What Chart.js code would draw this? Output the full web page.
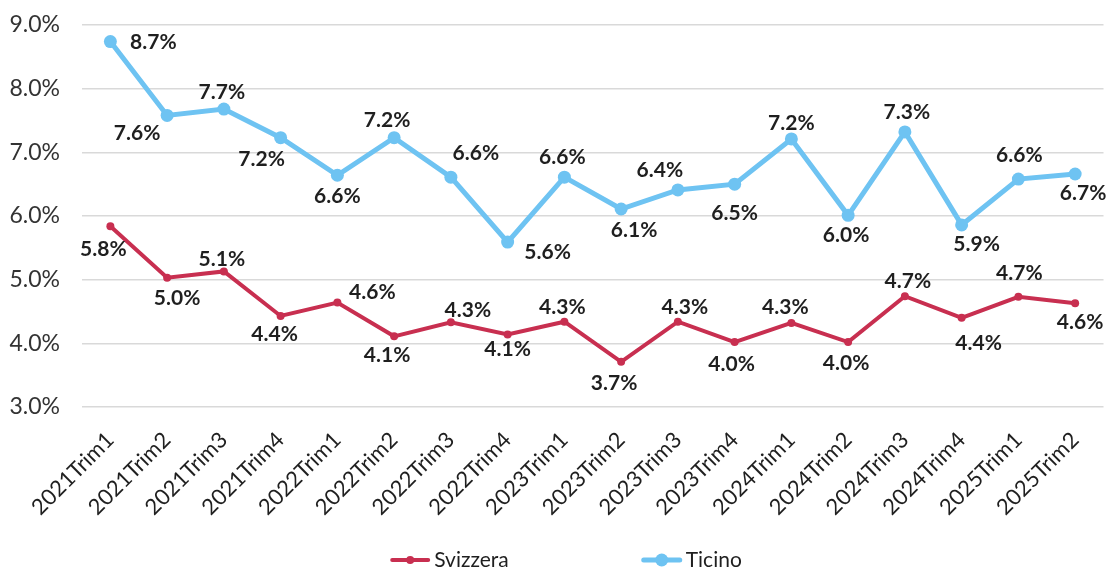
<!DOCTYPE html>
<html>
<head>
<meta charset="utf-8">
<script src="https://cdn.jsdelivr.net/npm/chart.js@4.4.0/dist/chart.umd.min.js"></script>
<style>
html,body{margin:0;padding:0;background:#ffffff;}
#wrap{width:1114px;height:569px;position:relative;}
</style>
</head>
<body>
<div id="wrap"><canvas id="c" width="1114" height="569"></canvas></div>
<script>
// ---- data ----
const categories = ["2021Trim1","2021Trim2","2021Trim3","2021Trim4","2022Trim1","2022Trim2","2022Trim3","2022Trim4","2023Trim1","2023Trim2","2023Trim3","2023Trim4","2024Trim1","2024Trim2","2024Trim3","2024Trim4","2025Trim1","2025Trim2"];
const svizzera = [5.84, 5.03, 5.13, 4.43, 4.64, 4.11, 4.33, 4.14, 4.34, 3.71, 4.34, 4.02, 4.32, 4.02, 4.74, 4.40, 4.73, 4.63];
const ticino = [8.74, 7.58, 7.68, 7.23, 6.64, 7.23, 6.61, 5.59, 6.61, 6.11, 6.41, 6.50, 7.21, 6.01, 7.32, 5.86, 6.58, 6.66];
const seriesNames = ["Svizzera", "Ticino"];
const yTickValues = [3, 4, 5, 6, 7, 8, 9];

// ---- styles ----
const RED = "#C82F50";
const BLUE = "#6EC3F2";
const FONT = "Lato, 'Open Sans', sans-serif";
// label offsets (px) from each point, style only
const svizzeraLabelOffsets = [[-7,23],[10,20],[-2,-12],[-6,18],[35,-10],[-7,19],[17,-12],[0,15],[-2,-14],[-7,21],[7,-14],[-3,22],[-6,-16],[-2,21],[3,-15],[17,25],[1,-24],[5,19]];
const ticinoLabelOffsets = [[43,1],[-30,18],[-2,-17],[-19,22],[0,21],[-7,-17],[25,-24],[40,10],[-2,-20],[13,21],[-18,-20],[0,29],[0,-16],[-2,20],[2,-20],[15,19],[1,-24],[8,19]];

const dataLabelPlugin = {
  id: 'dataLabelPlugin',
  afterDatasetsDraw(chart, args, opts) {
    const ctx = chart.ctx;
    ctx.save();
    ctx.font = "bold 21px " + FONT;
    ctx.fillStyle = "#1f1f1f";
    ctx.textAlign = "center";
    ctx.textBaseline = "middle";
    chart.data.datasets.forEach((ds, di) => {
      const meta = chart.getDatasetMeta(di);
      const offs = opts.offsets[di];
      meta.data.forEach((pt, i) => {
        const o = offs[i] || [0, -18];
        ctx.fillText(ds.data[i].toFixed(1) + "%", pt.x + o[0], pt.y + o[1]);
      });
    });
    ctx.restore();
  }
};

const legendPlugin = {
  id: 'customLegend',
  afterDraw(chart, args, opts) {
    const ctx = chart.ctx;
    ctx.save();
    ctx.font = "21px " + FONT;
    ctx.textBaseline = "middle";
    ctx.textAlign = "left";
    const lineW = 40, gapText = 4, gapItems = 133;
    const items = chart.data.datasets.map(ds => ({
      text: ds.label, color: ds.borderColor, lw: ds.borderWidth, r: ds.pointRadius,
      w: lineW + gapText + ctx.measureText(ds.label).width
    }));
    const total = items.reduce((s, it) => s + it.w, 0) + gapItems * (items.length - 1);
    let x = opts.centerX - total / 2;
    const y = opts.y;
    items.forEach(it => {
      ctx.strokeStyle = it.color;
      ctx.lineWidth = it.lw;
      ctx.lineCap = "round";
      ctx.beginPath();
      ctx.moveTo(x + 2, y);
      ctx.lineTo(x + lineW - 2, y);
      ctx.stroke();
      ctx.fillStyle = it.color;
      ctx.beginPath();
      ctx.arc(x + lineW / 2, y, it.r, 0, Math.PI * 2);
      ctx.fill();
      ctx.fillStyle = "#1f1f1f";
      ctx.fillText(it.text, x + lineW + gapText, y);
      x += it.w + gapItems;
    });
    ctx.restore();
  }
};

new Chart(document.getElementById('c'), {
  type: 'line',
  data: {
    labels: categories,
    datasets: [
      {
        label: seriesNames[0], data: svizzera,
        borderColor: RED, backgroundColor: RED,
        borderWidth: 4, pointRadius: 4, pointHoverRadius: 4,
        pointBackgroundColor: RED, pointBorderWidth: 0, tension: 0
      },
      {
        label: seriesNames[1], data: ticino,
        borderColor: BLUE, backgroundColor: BLUE,
        borderWidth: 5, pointRadius: 6.5, pointHoverRadius: 6.5,
        pointBackgroundColor: BLUE, pointBorderWidth: 0, tension: 0
      }
    ]
  },
  options: {
    responsive: false,
    animation: false,
    devicePixelRatio: 1,
    layout: { padding: { top: 25, right: 7, bottom: 52, left: 0 } },
    plugins: {
      legend: { display: false },
      tooltip: { enabled: false },
      dataLabelPlugin: { offsets: [svizzeraLabelOffsets, ticinoLabelOffsets] },
      customLegend: { centerX: 566, y: 560 }
    },
    scales: {
      x: {
        offset: true,
        grid: { display: false, drawTicks: false },
        border: { display: false },
        ticks: {
          autoSkip: false, minRotation: 45, maxRotation: 45, padding: 20,
          color: "#1f1f1f", font: { family: FONT, size: 22 }
        },
        afterFit(scale) { scale.height = 110; }
      },
      y: {
        min: 3, max: 9,
        afterBuildTicks(scale) { scale.ticks = yTickValues.map(v => ({ value: v })); },
        grid: { color: "#d9d9d9", lineWidth: 1.5, drawTicks: true, tickLength: 22, tickColor: "rgba(0,0,0,0)" },
        border: { display: false },
        ticks: {
          padding: 0, color: "#333333", font: { family: FONT, size: 23 },
          callback: v => v.toFixed(1) + "%"
        },
        afterFit(scale) { scale.width = 82; }
      }
    }
  },
  plugins: [dataLabelPlugin, legendPlugin]
});
</script>
</body>
</html>
